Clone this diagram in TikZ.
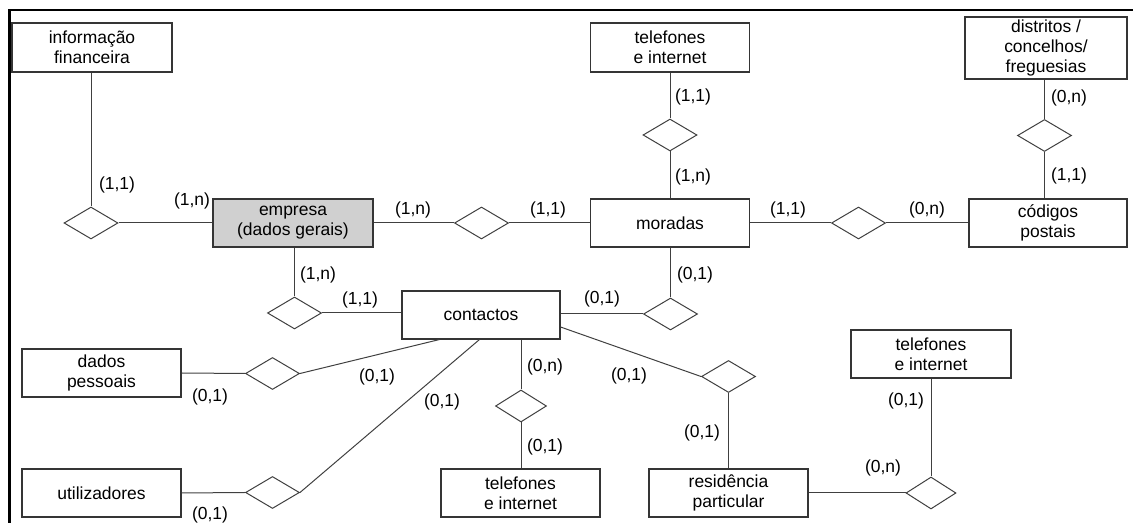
\documentclass[tikz,border=0pt]{standalone}
\usepackage{fontspec}
\setmainfont{Liberation Sans}
\usetikzlibrary{shapes.geometric}
\definecolor{linegray}{HTML}{404040}
\definecolor{boxgray}{HTML}{353535}
\definecolor{keyfill}{HTML}{D0D0D0}
\begin{document}
\begin{tikzpicture}[x=0.75pt,y=-0.75pt,
  txt/.style={font=\fontsize{13.1}{15}\selectfont},
  entity/.style={txt, draw=boxgray, line width=0.8pt, fill=white, rectangle,
    inner sep=0pt, align=center, minimum width=119.25pt, minimum height=36pt},
  rel/.style={draw=linegray, line width=0.75pt, fill=white, diamond,
    inner sep=0pt, minimum width=40.5pt, minimum height=24pt},
  card/.style={txt, inner sep=0pt},
  link/.style={draw=linegray, line width=0.75pt},
  frame/.style={draw=black, line width=1.9pt}]
\useasboundingbox (0,0) rectangle (1133,523);

% outer frame (top and left edges)
\coordinate (ftl) at (9.5,10);
\coordinate (ftr) at (1133,10);
\coordinate (fbl) at (9.5,523);
\draw[frame] (ftr) -- (ftl) -- (fbl);

% entities
\node[entity, minimum width=120pt, minimum height=36.75pt] (info) at (92,47.5) {informação\\financeira};
\node[entity, fill=keyfill, minimum width=120pt] (empresa) at (293,223) {empresa\\(dados gerais)};
\node[entity, minimum height=36.75pt] (telTop) at (670,47.5) {telefones\\e internet};
\node[entity] (moradas) at (670,223) {moradas};
\node[entity, minimum width=121.5pt, minimum height=46.5pt] (distritos) at (1046,48) {distritos /\\concelhos/\\freguesias};
\node[entity, minimum width=118.5pt] (codigos) at (1048,223) {códigos\\postais};
\node[entity, minimum width=118.5pt] (contactos) at (481,315) {contactos};
\node[entity] (dados) at (101.5,373) {dados\\pessoais};
\node[entity] (utiliz) at (101.5,493) {utilizadores};
\node[entity] (telBot) at (520.5,493) {telefones\\e internet};
\node[entity] (resid) at (728.5,493) {residência\\particular};
\node[entity, minimum width=120pt] (telRight) at (931,354) {telefones\\e internet};

% relationships
\node[rel] (d1) at (91,223) {};
\node[rel] (d2) at (481.5,223) {};
\node[rel] (d3) at (670,135) {};
\node[rel] (d4) at (858.5,223) {};
\node[rel] (d5) at (1044.5,135.5) {};
\node[rel] (d6) at (294.5,313) {};
\node[rel] (d7) at (670.5,314) {};
\node[rel] (d8) at (272.5,373.5) {};
\node[rel] (d9) at (272.5,492.5) {};
\node[rel, minimum width=38.25pt] (d10) at (521,406) {};
\node[rel] (d11) at (728.5,376.5) {};
\node[rel, minimum width=37.5pt] (d12) at (931,493) {};

% connectors
\draw[link] (d1.north) -- (d1.north |- info.south);
\draw[link] (d1.east) -- (d1.east -| empresa.west);
\draw[link] (empresa.east) -- (d2.west);
\draw[link] (d2.east) -- (moradas.west);
\draw[link] (d3.north) -- (d3.north |- telTop.south);
\draw[link] (d3.south) -- (d3.south |- moradas.north);
\draw[link] (moradas.east) -- (d4.west);
\draw[link] (d4.east) -- (codigos.west);
\draw[link] (d5.north) -- (d5.north |- distritos.south);
\draw[link] (d5.south) -- (d5.south |- codigos.north);
\draw[link] (d6.north) -- (d6.north |- empresa.south);
\draw[link] (d6.east) -- (d6.east -| contactos.west);
\draw[link] (d7.north) -- (d7.north |- moradas.south);
\draw[link] (d7.west) -- (d7.west -| contactos.east);
\draw[link] (dados.east) -- (d8.west);
\draw[link] (d8.east) -- ([xshift=28.5pt]contactos.south west);
\draw[link] (utiliz.east) -- (d9.west);
\draw[link] (d9.east) -- ([xshift=58.5pt]contactos.south west);
\draw[link] (d10.north) -- (d10.north |- contactos.south);
\draw[link] (d10.south) -- (d10.south |- telBot.north);
\draw[link] ([yshift=-9pt]contactos.east) -- (d11.west);
\draw[link] (d11.south) -- (d11.south |- resid.north);
\draw[link] (resid.east) -- (d12.west);
\draw[link] (d12.north) -- (d12.north |- telRight.south);

% cardinalities
\node[card] (c1) at (117,185) {(1,1)};
\node[card] (c2) at (192,201) {(1,n)};
\node[card] (c3) at (413,210) {(1,n)};
\node[card] (c4) at (548,210) {(1,1)};
\node[card] (c5) at (693,97) {(1,1)};
\node[card] (c6) at (693,177) {(1,n)};
\node[card] (c7) at (788,210) {(1,1)};
\node[card] (c8) at (927,210) {(0,n)};
\node[card] (c9) at (1069,98) {(0,n)};
\node[card] (c10) at (1069,176) {(1,1)};
\node[card] (c11) at (318,275) {(1,n)};
\node[card] (c12) at (360,300) {(1,1)};
\node[card] (c13) at (695,275) {(0,1)};
\node[card] (c14) at (602,299) {(0,1)};
\node[card] (c15) at (210,397) {(0,1)};
\node[card] (c16) at (377,377) {(0,1)};
\node[card] (c17) at (210,515) {(0,1)};
\node[card] (c18) at (442,402) {(0,1)};
\node[card] (c19) at (545,367) {(0,n)};
\node[card] (c20) at (545,447) {(0,1)};
\node[card] (c21) at (629,376) {(0,1)};
\node[card] (c22) at (702,433) {(0,1)};
\node[card] (c23) at (906,401) {(0,1)};
\node[card] (c24) at (883,468) {(0,n)};
\end{tikzpicture}
\end{document}
